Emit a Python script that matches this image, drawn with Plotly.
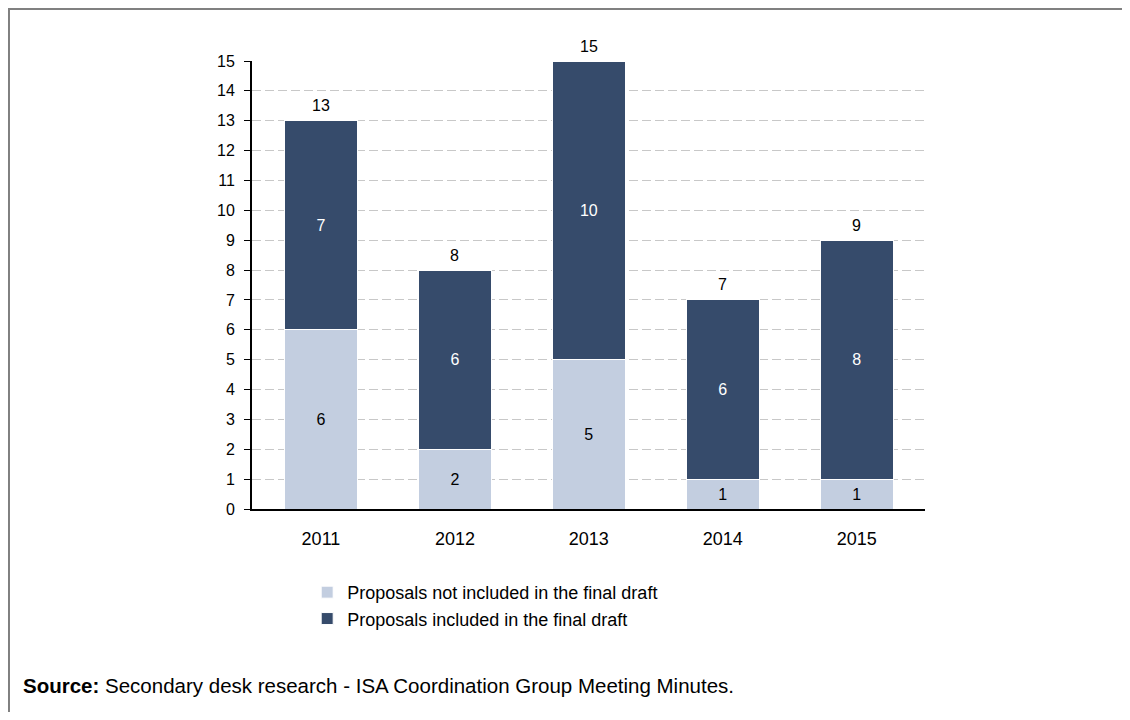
import plotly.graph_objects as go

# --- data ---------------------------------------------------------------
years = ["2011", "2012", "2013", "2014", "2015"]
not_included = [6, 2, 5, 1, 1]
included = [7, 6, 10, 6, 8]
totals = [a + b for a, b in zip(not_included, included)]

LIGHT = "#C3CEE0"
DARK = "#364B6B"
FONT = "Arial, Liberation Sans, sans-serif"

fig = go.Figure()
fig.add_bar(x=years, y=not_included, name="Proposals not included in the final draft",
            legendgroup="a",
            marker=dict(color=LIGHT, line=dict(color="white", width=1)),
            text=not_included, textposition="inside", insidetextanchor="middle",
            textfont=dict(color="black", size=16, family=FONT), hoverinfo="skip")
fig.add_bar(x=years, y=included, name="Proposals included in the final draft",
            legendgroup="b",
            marker=dict(color=DARK, line=dict(color="white", width=1)),
            text=included, textposition="inside", insidetextanchor="middle",
            textfont=dict(color="white", size=16, family=FONT), hoverinfo="skip")

# totals above each stack (x given as category index)
for i, tot in enumerate(totals):
    fig.add_annotation(x=i, y=tot, text=str(tot), showarrow=False,
                       yanchor="middle", yshift=15,
                       font=dict(color="black", size=16, family=FONT))

fig.update_layout(
    width=1114, height=704,
    margin=dict(l=244, r=197, t=53, b=203),
    barmode="stack", bargap=0.455,
    plot_bgcolor="white", paper_bgcolor="white",
    font=dict(family=FONT, size=16, color="black"),
    uniformtext=dict(minsize=16, mode="show"),
    legend=dict(x=0.082, y=-0.145, xanchor="left", yanchor="top", traceorder="normal",
                font=dict(size=18, family=FONT), itemwidth=30, tracegroupgap=7,
                bgcolor="rgba(0,0,0,0)"),
    showlegend=True,
)
fig.update_xaxes(type="category", range=[-0.515, 4.51], showline=True, linecolor="black",
                 linewidth=2, ticks="", tickfont=dict(size=18), ticklabelstandoff=12)
fig.update_yaxes(range=[0, 15], dtick=1, showline=True, linecolor="black", linewidth=2,
                 ticks="outside", ticklen=6, tickcolor="black", tickwidth=1,
                 ticklabelstandoff=6,
                 tickfont=dict(size=16), showgrid=True, gridcolor="#C8C8C8",
                 griddash="9px,4px", gridwidth=1, zeroline=False)

fig.add_annotation(x=-0.3432, y=-0.394, xref="paper", yref="paper", xanchor="left",
                   yanchor="middle", showarrow=False, align="left",
                   text="<b>Source:</b> Secondary desk research - ISA Coordination Group Meeting Minutes.",
                   font=dict(size=20.5, family=FONT, color="black"))

# grey frame (only the left and top edges fall inside the page)
fig.add_shape(type="rect", xref="paper", yref="paper",
              x0=-0.3611, x1=1.31, y0=-0.48, y1=1.1161,
              line=dict(color="#808080", width=2), layer="above")

fig.write_html("out.html")
